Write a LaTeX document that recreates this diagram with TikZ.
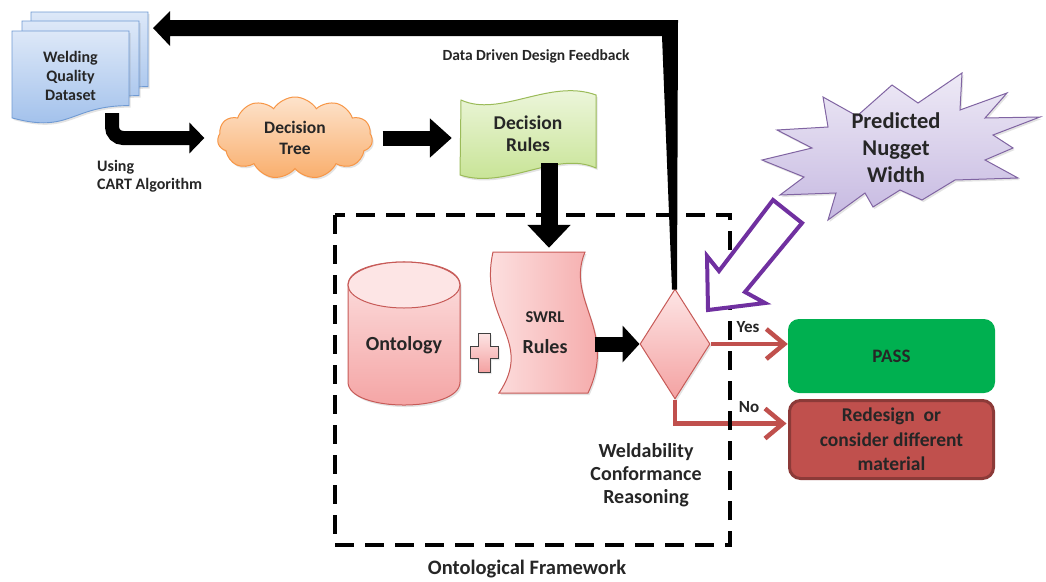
\documentclass[tikz,border=0pt]{standalone}
\usepackage{fontspec}
\setmainfont{Carlito}
\usetikzlibrary{shapes.geometric,shapes.symbols,arrows.meta,calc,shadows}
\definecolor{ink}{HTML}{262626}
\definecolor{dsTop}{HTML}{DDE8F8}
\definecolor{dsBot}{HTML}{9CBDEA}
\definecolor{dsLine}{HTML}{6F9AD3}
\definecolor{clTop}{HTML}{FDE3CC}
\definecolor{clBot}{HTML}{F9AE6C}
\definecolor{clLine}{HTML}{F79646}
\definecolor{grTop}{HTML}{F1F8E4}
\definecolor{grBot}{HTML}{C4E28E}
\definecolor{grLine}{HTML}{9BBB59}
\definecolor{pkLight}{HTML}{FDE5E5}
\definecolor{pkDark}{HTML}{F4A2A2}
\definecolor{pkLine}{HTML}{C75A57}
\definecolor{vlTop}{HTML}{EEEAF6}
\definecolor{vlBot}{HTML}{C6B9E1}
\definecolor{vlLine}{HTML}{8064A2}
\definecolor{passGreen}{HTML}{00B050}
\definecolor{redFill}{HTML}{C0504D}
\definecolor{redEdge}{HTML}{8C3A38}
\definecolor{purp}{HTML}{7030A0}
\newcommand{\fsz}[2]{\fontsize{#1}{#2}\selectfont\bfseries}

\begin{document}
\begin{tikzpicture}[x=1pt,y=-1pt,
  lbl/.style={text=ink, align=center, inner sep=0pt},
  soft/.style={drop shadow={shadow xshift=1.5pt, shadow yshift=-2pt, opacity=0.22}},
  docpage/.style={soft, draw=dsLine, line width=0.9pt, top color=dsTop, bottom color=dsBot},
  pinkV/.style={soft, draw=pkLine, line width=1pt, top color=pkLight, bottom color=pkDark},
  pinkH/.style={soft, draw=pkLine, line width=1pt, left color=pkLight, right color=pkDark},
  blkarrow/.style={draw=black, line width=#1},
  redarrow/.style={draw=redFill, line width=4.5pt, -{Straight Barb[length=18pt,width=30pt]}},
  dashframe/.style={draw=black, line width=4pt, dash pattern=on 19pt off 11pt},
]
\useasboundingbox (0,0) rectangle (1046,581);
\fill[white] (0,0) rectangle (1046,581);

% ---------- dataset: three stacked document pages ----------
\path[docpage] (31,12) -- (148,12) -- (148,86.6) .. controls (89.5,86.6) and (89.5,114.9) .. (31,98.9) -- cycle;
\path[docpage] (22,21) -- (139,21) -- (139,95.6) .. controls (80.5,95.6) and (80.5,123.9) .. (22,107.9) -- cycle;
\path[docpage] (12,31) -- (129,31) -- (129,105.6) .. controls (70.5,105.6) and (70.5,133.9) .. (12,117.9) -- cycle;
\node[lbl, font=\fsz{16}{19}] (data) at (70.5,76) {Welding\\Quality\\Dataset};
\node[lbl, font=\fsz{16}{18}, align=left, anchor=west] (cart) at (97,176) {Using\\CART Algorithm};

% ---------- nodes of the pipeline ----------
\node[cloud, cloud puffs=11, cloud puff arc=115, cloud ignores aspect, minimum width=155pt, minimum height=82pt,
      soft, draw=clLine, line width=1pt, top color=clTop, bottom color=clBot,
      lbl, font=\fsz{17.5}{21}] (cloud) at (295,138) {Decision\\Tree};

% wavy "Decision Rules" banner
\path[soft, draw=grLine, line width=1pt, top color=grTop, bottom color=grBot]
  (461,100) .. controls (500,118) and (550,78) .. (596,95) -- (596,168)
  .. controls (556,150) and (506,190) .. (460,175) -- cycle;
\node[lbl, font=\fsz{19.5}{22}, minimum width=136pt, minimum height=76pt] (rules) at (528,134) {Decision\\Rules};

% ontology cylinder
\path[pinkV] (348,285) -- (348,382) .. controls (348,412.7) and (460,412.7) .. (460,382)
  -- (460,285) .. controls (460,254.3) and (348,254.3) .. (348,285) -- cycle;
\draw[pkLine, line width=1pt, fill=pkLight] (404,285) ellipse [x radius=56pt, y radius=23pt];
\node[lbl, font=\fsz{20}{24}] (onto) at (404,345) {Ontology};

% plus sign
\path[soft, draw=black!75, line width=1pt, top color=pkLight, bottom color=pkDark]
  (478,333) -- (490,333) -- (490,346) -- (498,346) -- (498,358) -- (490,358) -- (490,372)
  -- (478,372) -- (478,358) -- (470,358) -- (470,346) -- (478,346) -- cycle;

% SWRL rules: vertical wave
\path[pinkH] (493,252) -- (585,252) .. controls (565,300) and (618,330) .. (588,393)
  -- (499,393) .. controls (535,340) and (478,320) .. (493,252) -- cycle;
\node[minimum width=95pt, minimum height=141pt, inner sep=0pt] (swrl) at (541,322.5) {};
\node[lbl, font=\fsz{16.5}{20}] (swrlA) at (545,317) {SWRL};
\node[lbl, font=\fsz{20}{24}] (swrlB) at (545,347) {Rules};

% decision diamond
\node[diamond, minimum width=70pt, minimum height=110pt, inner sep=0pt, soft,
      draw=pkLine, line width=1pt, top color=pkLight, bottom color=pkDark] (diamond) at (675,344) {};

% outcomes
\node[rounded corners=11pt, fill=passGreen, minimum width=207pt, minimum height=74pt,
      lbl, font=\fsz{19}{23}] (pass) at (891.5,356) {PASS};
\node[rounded corners=11pt, fill=redFill, draw=redEdge, line width=3pt, minimum width=204pt, minimum height=78pt,
      lbl, font=\fsz{19.5}{24.5}] (redesign) at (891.5,439.5) {Redesign~ or\\consider different\\material};

% ---------- black flow arrows ----------
\coordinate (dsout) at ($(data.center)+(41.5,37)$);
\draw[blkarrow=14pt, -{Triangle[length=15pt,width=30pt]}, rounded corners=11pt]
  (dsout) |- ($(cloud.west)+(-13,0)$);
\draw[blkarrow=15pt, -{Triangle[length=22pt,width=38pt]}]
  ($(cloud.east)+(10,0)$) -- ($(rules.west |- cloud.east)+(-8,0)$);
\coordinate (rout) at ($(rules.center)+(21,29)$);
\draw[blkarrow=17pt, -{Triangle[length=23pt,width=42pt]}]
  (rout) -- ($(rout |- swrl.north)+(0,-4)$);
\draw[blkarrow=15pt, -{Triangle[length=17pt,width=36pt]}]
  ($(swrl.east |- diamond.west)+(6,0)$) -- (diamond.west);

% design feedback: tapered line from the diamond back to the dataset
\coordinate (fbcorner) at (670,28);
\coordinate (fbtip) at (153,28);
\fill[black] ($(diamond.north)+(2,1)$) -- ($(fbcorner)+(8,-8)$) -- ($(fbtip)+(17,-8)$)
  -- ($(fbtip)+(17,-17)$) -- (fbtip) -- ($(fbtip)+(17,18)$) -- ($(fbtip)+(17,8)$)
  -- ($(fbcorner)+(-8,8)$) -- ($(diamond.north)+(-3,1)$) -- cycle;
\node[lbl, font=\fsz{15.5}{18}] (fbtext) at (536,56) {Data Driven Design Feedback};

% ---------- yes / no branches ----------
\draw[redarrow] (diamond.east) -- (diamond.east -| pass.west);
\draw[redarrow] (diamond.south) |- ($(redesign.west)+(-1.5,-16)$);
\node[lbl, font=\fsz{17}{20}] (yes) at (748,327) {Yes};
\node[lbl, font=\fsz{17}{20}] (no) at (749,407) {No};

% ---------- ontological framework boundary ----------
\draw[dashframe] (335,215) rectangle (730,545);
\node[lbl, font=\fsz{20.5}{24}] (fwtext) at (527,569) {Ontological Framework};
\node[lbl, font=\fsz{20}{23}] (weld) at (646,475) {Weldability\\Conformance\\Reasoning};

% ---------- predicted nugget width burst ----------
\path[soft, draw=vlLine, line width=1pt, top color=vlTop, bottom color=vlBot]
  (823,97) -- (857,116) -- (892,85) -- (918,103) -- (962,73) -- (960,110) -- (1007,93)
  -- (985,118) -- (1040,117) -- (993,135) -- (1013,148) -- (985,160) -- (1018,178)
  -- (955,180) -- (922,200) -- (900,190) -- (873,207) -- (865,193) -- (828,220)
  -- (836,193) -- (780,195) -- (804,177) -- (762,160) -- (812,148) -- (777,130)
  -- (828,127) -- cycle;
\node[lbl, font=\fsz{22.5}{27}] (burst) at (896,148) {Predicted\\Nugget\\Width};

% hollow arrow from the burst into the diamond
\path[draw=purp, fill=white, line width=4pt, line join=miter]
  (708,310) -- (707,256) -- (719,271) -- (773,200) -- (802,223) -- (745,292) -- (765,303) -- cycle;
\end{tikzpicture}
\end{document}
